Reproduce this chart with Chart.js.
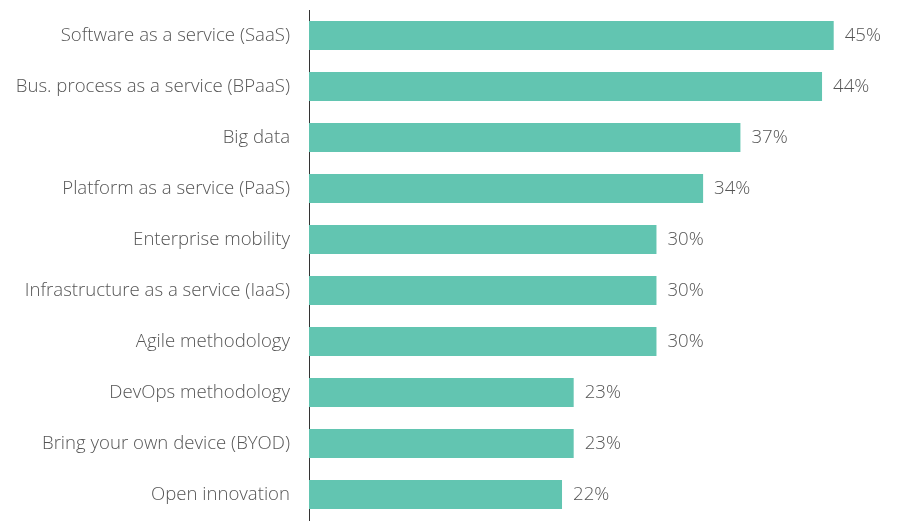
<!DOCTYPE html>
<html>
<head>
<meta charset="utf-8">
<script src="https://cdn.jsdelivr.net/npm/chart.js@4/dist/chart.umd.min.js"></script>
<style>
html,body{margin:0;padding:0;background:#fff;}
#wrap{width:898px;height:522px;}
</style>
</head>
<body>
<div id="wrap"><canvas id="c" width="898" height="522"></canvas></div>
<script>
const categories = [
  "Software as a service (SaaS)",
  "Bus. process as a service (BPaaS)",
  "Big data",
  "Platform as a service (PaaS)",
  "Enterprise mobility",
  "Infrastructure as a service (IaaS)",
  "Agile methodology",
  "DevOps methodology",
  "Bring your own device (BYOD)",
  "Open innovation"
];
const shares = [45.0, 44.0, 37.0, 33.8, 29.8, 29.8, 29.8, 22.7, 22.7, 21.7];
const valueLabels = ["45%", "44%", "37%", "34%", "30%", "30%", "30%", "23%", "23%", "22%"];

const FONT = '"Open Sans", "Noto Sans", sans-serif';

const valueLabelPlugin = {
  id: 'valueLabels',
  afterDatasetsDraw(chart) {
    const ctx = chart.ctx;
    const meta = chart.getDatasetMeta(0);
    ctx.save();
    ctx.font = '300 18.6px ' + FONT;
    ctx.fillStyle = '#555555';
    ctx.textBaseline = 'middle';
    ctx.textAlign = 'left';
    meta.data.forEach((bar, i) => {
      ctx.fillText(valueLabels[i], bar.x + 11, bar.y);
    });
    ctx.restore();
  }
};

new Chart(document.getElementById('c'), {
  type: 'bar',
  data: {
    labels: categories,
    datasets: [{
      data: shares,
      backgroundColor: '#62c5b1',
      borderWidth: 0,
      categoryPercentage: 1.0,
      barPercentage: 0.57
    }]
  },
  options: {
    indexAxis: 'y',
    responsive: false,
    animation: false,
    layout: { padding: { top: 10, bottom: 2, right: 6, left: 0 } },
    plugins: { legend: { display: false }, tooltip: { enabled: false } },
    scales: {
      x: {
        display: false,
        min: 0,
        max: 50
      },
      y: {
        afterFit(scale) {
          scale.width = 309;
          scale.paddingTop = 0;
          scale.paddingBottom = 0;
        },
        grid: { display: false, drawTicks: false },
        border: { display: true, color: '#333333', width: 1 },
        ticks: {
          padding: 19,
          color: '#555555',
          font: { family: FONT, size: 18.6, weight: '300' }
        }
      }
    }
  },
  plugins: [valueLabelPlugin]
});
</script>
</body>
</html>
